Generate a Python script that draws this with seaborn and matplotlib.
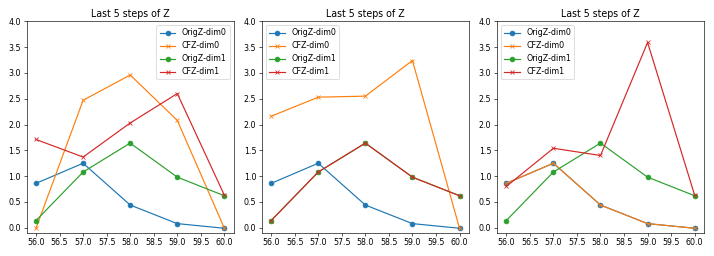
import numpy as np
import pandas as pd
import matplotlib
matplotlib.use("Agg")
import matplotlib.pyplot as plt
import seaborn as sns

# -----------------------------
# Data
# -----------------------------
steps = [56.0, 57.0, 58.0, 59.0, 60.0]

orig_dim0 = [0.86, 1.25, 0.44, 0.08, -0.01]
orig_dim1 = [0.14, 1.08, 1.64, 0.98, 0.62]

# counterfactual Z per panel
cf_dim0_p1 = [-0.01, 2.47, 2.96, 2.08, -0.01]
cf_dim1_p1 = [1.71, 1.37, 2.03, 2.60, 0.63]

cf_dim0_p2 = [2.16, 2.53, 2.55, 3.24, -0.01]
cf_dim1_p2 = [0.14, 1.08, 1.64, 0.98, 0.62]

cf_dim0_p3 = [0.86, 1.25, 0.44, 0.08, -0.01]
cf_dim1_p3 = [0.80, 1.54, 1.40, 3.59, 0.63]

panels = [
    (cf_dim0_p1, cf_dim1_p1, "upper right"),
    (cf_dim0_p2, cf_dim1_p2, "upper left"),
    (cf_dim0_p3, cf_dim1_p3, "upper left"),
]

colors = sns.color_palette("tab10")

# -----------------------------
# Plot
# -----------------------------
DPI = 57
fig, axes = plt.subplots(1, 3, figsize=(714 / DPI, 256 / DPI), dpi=DPI)

for ax, (cf0, cf1, loc) in zip(axes, panels):
    series = [
        ("OrigZ-dim0", orig_dim0, "o", colors[0]),
        ("CFZ-dim0", cf0, "x", colors[1]),
        ("OrigZ-dim1", orig_dim1, "o", colors[2]),
        ("CFZ-dim1", cf1, "x", colors[3]),
    ]
    for name, vals, mk, c in series:
        df = pd.DataFrame({"step": steps, "z": vals})
        sns.lineplot(data=df, x="step", y="z", marker=mk, color=c,
                     markeredgecolor=c, markeredgewidth=1.0, markersize=6,
                     label=name, ax=ax)
    ax.set_ylim(-0.1, 4.0)
    ax.set_xticks(np.arange(56, 60.01, 0.5))
    ax.xaxis.set_major_formatter(matplotlib.ticker.FormatStrFormatter("%.1f"))
    ax.set_title("Last 5 steps of Z")
    ax.set_xlabel("")
    ax.set_ylabel("")
    ax.legend(loc=loc)

plt.tight_layout()
plt.savefig("out.png", dpi=DPI)
